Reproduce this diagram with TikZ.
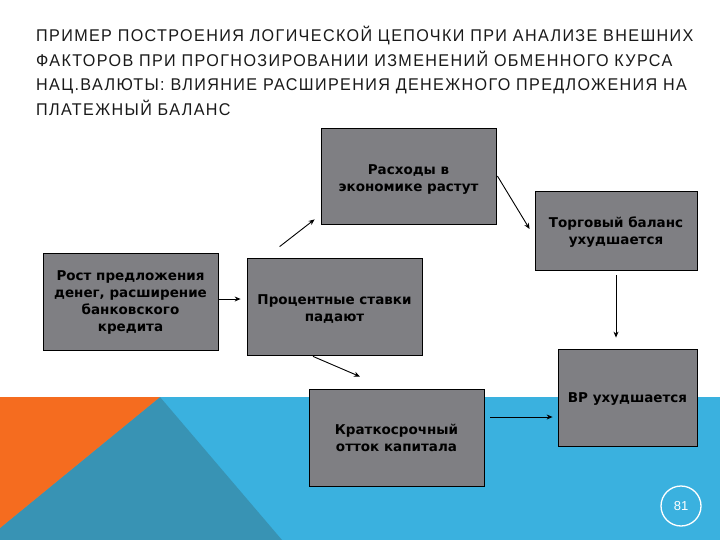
\documentclass[tikz,border=0pt]{standalone}
\usepackage{fontspec}
\setmainfont{Liberation Sans}
\newfontfamily\titlefont[FakeStretch=0.95,LetterSpace=8]{Liberation Sans}
\newfontfamily\boxfont{DejaVu Sans}
\usetikzlibrary{positioning,arrows.meta}

\definecolor{slideorange}{RGB}{245,108,31}
\definecolor{slideblue}{RGB}{58,177,223}
\definecolor{slideteal}{RGB}{56,147,180}
\definecolor{boxgray}{RGB}{127,127,131}

\begin{document}
\begin{tikzpicture}[x=1pt, y=-1pt,
  box/.style={draw=black, line width=0.8pt, fill=boxgray, inner sep=0pt},
  txt/.style={inner sep=0pt, align=center, font=\boxfont\bfseries\fontsize{13.5}{17}\selectfont},
  arr/.style={line width=0.9pt, -{Stealth[length=6pt,width=5pt]}}]
  \useasboundingbox (0,0) rectangle (720,540);

  % фон слайда
  \fill[slideblue] (0,397) rectangle (720,540);
  \fill[slideteal] (160,397) -- (282,540) -- (0,540) -- (0,528) -- cycle;
  \fill[slideorange] (0,397) -- (160,397) -- (0,528) -- cycle;

  % заголовок
  \node[anchor=north west, inner sep=0pt, align=left, text=black!90,
        font=\titlefont\fontsize{17}{24.5}\selectfont] (title) at (36,26)
    {ПРИМЕР ПОСТРОЕНИЯ ЛОГИЧЕСКОЙ ЦЕПОЧКИ ПРИ АНАЛИЗЕ ВНЕШНИХ\\
     ФАКТОРОВ ПРИ ПРОГНОЗИРОВАНИИ ИЗМЕНЕНИЙ ОБМЕННОГО КУРСА\\
     НАЦ.ВАЛЮТЫ: ВЛИЯНИЕ РАСШИРЕНИЯ ДЕНЕЖНОГО ПРЕДЛОЖЕНИЯ НА\\
     ПЛАТЕЖНЫЙ БАЛАНС};

  % блоки
  \node[box, minimum width=175pt, minimum height=97pt] (rost) at (130.5,301.5) {};
  \node[box, minimum width=175pt, minimum height=97pt] (proc) at (334.5,306.5) {};
  \node[box, minimum width=175pt, minimum height=96pt] (rash) at (408.5,176) {};
  \node[box, minimum width=162pt, minimum height=79pt] (torg) at (616,230.5) {};
  \node[box, minimum width=139pt, minimum height=97pt] (vr) at (627.5,397.5) {};
  \node[box, minimum width=175pt, minimum height=97pt] (krat) at (396.5,437.5) {};

  \node[txt, below=18pt of rost.north] (rosttxt) {Рост предложения\\денег, расширение\\банковского\\кредита};
  \node[txt, below=37pt of proc.north] (proctxt) {Процентные ставки\\падают};
  \node[txt, below=37pt of rash.north] (rashtxt) {Расходы в\\экономике растут};
  \node[txt, below=26.5pt of torg.north] (torgtxt) {Торговый баланс\\ухудшается};
  \node[txt, below=44pt of vr.north] (vrtxt) {ВР ухудшается};
  \node[txt, below=35pt of krat.north] (krattxt) {Краткосрочный\\отток капитала};

  % стрелки
  \draw[arr, shorten <=1pt, shorten >=6pt] ([yshift=2.5pt]rost.east) -- ([yshift=2.5pt]rost.east -| proc.west);
  \draw[arr] ([xshift=33pt,yshift=11pt]proc.north west) -- ([xshift=-6pt,yshift=5pt]rash.south west);
  \draw[arr] ([xshift=1pt]rash.east) -- ([xshift=-5pt,yshift=1.5pt]torg.west);
  \draw[arr, shorten <=5pt, shorten >=11pt] (torg.south) -- (torg.south |- vr.north);
  \draw[arr] ([xshift=-21.5pt,yshift=-1pt]proc.south) -- ([xshift=-36.5pt,yshift=12pt]krat.north);
  \draw[arr, shorten <=6pt, shorten >=5pt] ([yshift=20.5pt]krat.east) -- ([yshift=20.5pt]krat.east -| vr.west);

  % номер слайда
  \node[circle, draw=white, line width=1.3pt, minimum size=40pt, inner sep=0pt,
        text=white, font=\fontsize{13}{13}\selectfont] (num) at (681,506) {81};
\end{tikzpicture}
\end{document}
